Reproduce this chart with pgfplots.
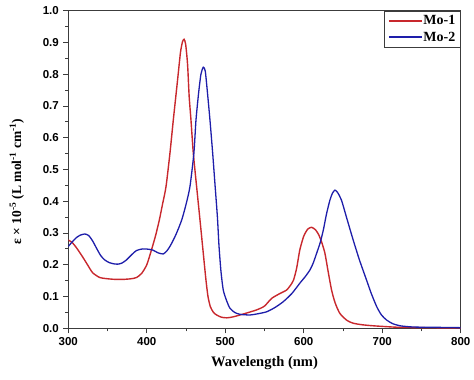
\documentclass[border=0pt]{standalone}
\usepackage{fontspec}
\setmainfont{Liberation Serif}
\setsansfont{Liberation Sans}
\usepackage{pgfplots}
\pgfplotsset{compat=1.18}
\definecolor{mored}{RGB}{200,40,45}
\definecolor{moblue}{RGB}{30,30,170}
\definecolor{axgray}{RGB}{60,60,60}
\begin{document}
\begin{tikzpicture}
\begin{axis}[
  scale only axis,
  width=392.4pt, height=317.6pt,
  xmin=300, xmax=800, ymin=0, ymax=1,
  xtick={300,400,500,600,700,800},
  ytick={0,0.1,0.2,0.3,0.4,0.5,0.6,0.7,0.8,0.9,1.0},
  minor x tick num=1, minor y tick num=1,
  tick pos=left, tick align=outside,
  major tick length=5pt, minor tick length=3pt,
  axis line style={axgray, line width=1pt},
  every tick/.style={axgray, line width=0.9pt},
  /pgf/number format/assume math mode=true,
  ticklabel style={font=\sffamily\bfseries\fontsize{11.5}{13}\selectfont},
  yticklabel style={/pgf/number format/fixed,/pgf/number format/fixed zerofill,/pgf/number format/precision=1, xshift=-1pt},
  xticklabel style={/pgf/number format/fixed,/pgf/number format/1000 sep={}, yshift=-1pt},
  xlabel={Wavelength (nm)},
  ylabel={ε × 10\textsuperscript{-5} (L mol\textsuperscript{-1} cm\textsuperscript{-1})},
  xlabel style={font=\bfseries\fontsize{14.5}{16}\selectfont, yshift=-4pt},
  ylabel style={font=\bfseries\fontsize{13.5}{15}\selectfont, yshift=12pt, xshift=-12pt},
  legend style={at={(1,1)}, anchor=north east, draw=axgray, line width=0.8pt,
    font=\bfseries\fontsize{14}{15}\selectfont, row sep=3.5pt,
    inner xsep=4pt, inner ysep=3.5pt,
    nodes={inner sep=1pt}},
  legend cell align=left,
  legend image code/.code={\draw[#1, line width=1.5pt] (0cm,0cm) -- (1.15cm,0cm);},
]
\addplot[mored, line width=1.4pt, smooth, tension=0.4] coordinates {
(300,0.278)(305,0.270)(310,0.255)(315,0.237)(320,0.218)(325,0.198)(331,0.175)
(340,0.160)(350,0.156)(360,0.154)(370,0.154)(380,0.156)(387,0.160)(393.5,0.173)
(400,0.200)(406,0.247)(411,0.29)(416,0.341)(420,0.39)(424.5,0.446)(429.5,0.551)
(433.8,0.656)(437,0.73)(440,0.80)(443,0.87)(445.5,0.902)(447.5,0.91)(449.5,0.895)
(452,0.83)(454,0.73)(456.3,0.656)(459.3,0.551)(463.5,0.446)(467.8,0.341)(472,0.236)
(475.4,0.152)(478,0.10)(481,0.068)(485,0.050)(489,0.042)(495,0.035)
(502,0.033)(510,0.036)(523,0.045)(540,0.058)(550,0.070)(559,0.094)(570,0.110)
(578,0.120)(583,0.135)(587,0.152)(591,0.19)(595,0.247)(600,0.29)(605,0.312)
(610,0.318)(615,0.31)(619,0.295)(623,0.27)(627,0.236)(631,0.18)(635.5,0.12)
(640,0.08)(646,0.047)(655,0.025)(663,0.016)(675,0.011)(688,0.008)(700,0.006)
(722,0.003)(750,0.002)(800,0.001)
};
\addlegendentry{Mo-1}
\addplot[moblue, line width=1.3pt, smooth, tension=0.4] coordinates {
(300,0.258)(305,0.272)(310,0.285)(315,0.293)(321,0.297)(326,0.292)(331,0.275)
(336,0.252)(341,0.230)(346,0.216)(352,0.207)(358,0.203)(363,0.202)(368,0.205)
(374,0.215)(380,0.230)(387,0.245)(395,0.250)(402,0.249)(408,0.246)(414,0.238)
(421,0.234)(426,0.245)(430,0.26)(433.8,0.278)(438,0.300)(444.5,0.341)(450,0.39)
(455,0.446)(460,0.551)(462.7,0.656)(466,0.74)(469,0.80)(472,0.822)(474.5,0.81)
(477,0.75)(480.5,0.656)(484,0.55)(487,0.45)(490,0.35)(492,0.26)(494.5,0.18)
(497.5,0.12)(502,0.085)(506,0.063)(512,0.050)(518.7,0.044)(531.5,0.042)
(542,0.046)(552.7,0.052)(563,0.065)(574,0.084)(585,0.110)(595,0.142)(602,0.163)
(608,0.184)(612,0.205)(616.4,0.236)(621,0.27)(625,0.31)(629,0.36)(633.4,0.404)
(636.5,0.425)(639.7,0.435)(643,0.428)(648,0.404)(655,0.345)(663,0.278)(671,0.215)
(680,0.152)(686,0.110)(693,0.068)(699,0.042)(705.6,0.026)(713,0.015)(722.5,0.008)
(740,0.004)(770,0.003)(800,0.002)
};
\addlegendentry{Mo-2}
\end{axis}
\pgfresetboundingbox
\path[use as bounding box] ([shift={(-68.3pt,-50.7pt)}]current axis.south west) rectangle ([shift={(13.3pt,10.7pt)}]current axis.north east);
\end{tikzpicture}
\end{document}
